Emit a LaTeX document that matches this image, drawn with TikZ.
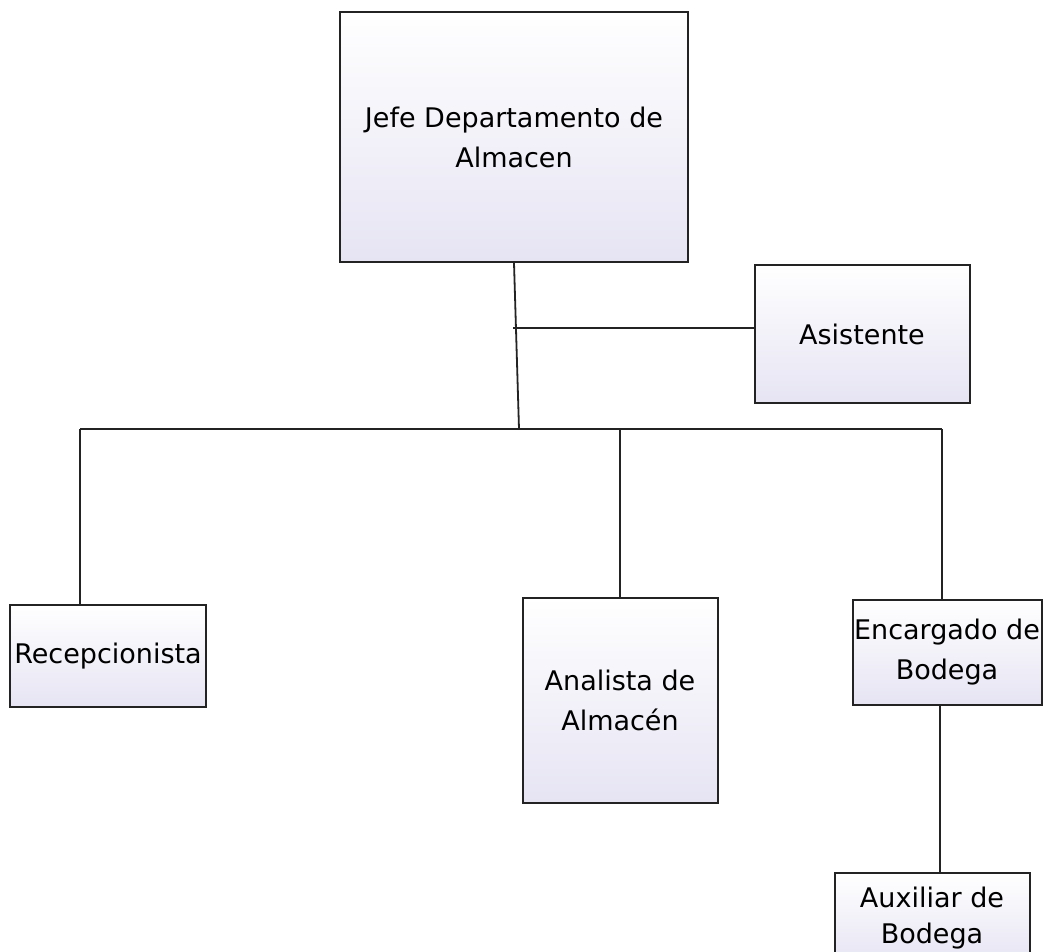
\documentclass[tikz,border=0pt]{standalone}
\usepackage{fontspec}
\setmainfont{DejaVu Sans}
\definecolor{lav}{RGB}{230,228,243}
\definecolor{edge}{RGB}{35,35,35}
\tikzset{
  box/.style={draw=edge, line width=2pt, top color=white, bottom color=lav,
    align=center, inner sep=0pt, font=\fontsize{27}{40}\selectfont},
  wire/.style={draw=edge, line width=1.8pt}
}
\begin{document}
\begin{tikzpicture}[x=1pt,y=-1pt]
\useasboundingbox (0,0) rectangle (1052,952);
\node[box, minimum width=348, minimum height=250] (jefe) at (514,137) {\raisebox{-3pt}{}Jefe Departamento de\\Almacen};
\node[box, minimum width=215, minimum height=138] (asis) at (862,334) {Asistente};
\node[box, minimum width=196, minimum height=102] (recep) at (108,656) {Recepcionista};
\node[box, minimum width=195, minimum height=205] (anal) at (620,700) {Analista de\\Almac\'en};
\node[box, minimum width=189, minimum height=105] (enc) at (947,652) {Encargado de\\Bodega};
\node[box, minimum width=195, minimum height=90, anchor=north, font=\fontsize{27}{36}\selectfont] (aux) at (932,872) {Auxiliar de\\Bodega};
\coordinate (busc) at (519,429);
\coordinate (asj) at (513,328);
\coordinate (busl) at (80,429);
\coordinate (busr) at (942,429);
\draw[wire] (jefe.south) -- (busc);
\draw[wire] (asj) -- (asis.west |- asj);
\draw[wire] (busl) -- (busr);
\draw[wire] (busl) -- (busl |- recep.north);
\draw[wire] (anal.north |- busc) -- (anal.north);
\draw[wire] (busr) -- (busr |- enc.north);
\draw[wire] (enc.south -| 940,0) -- (aux.north -| 940,0);
\end{tikzpicture}
\end{document}
